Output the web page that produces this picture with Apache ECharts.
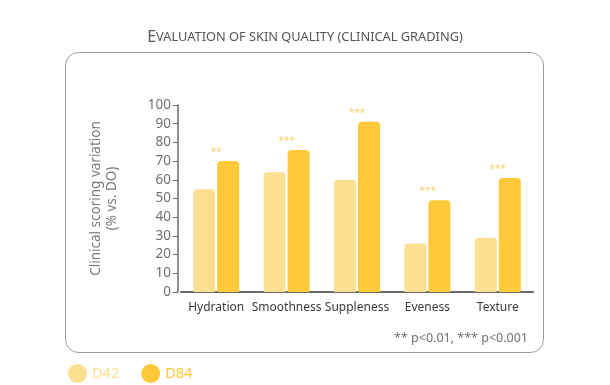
<!DOCTYPE html>
<html><head><meta charset="utf-8">
<script src="https://cdn.jsdelivr.net/npm/echarts@6/dist/echarts.min.js"></script>
<style>html,body{margin:0;padding:0;background:#fff}#c{width:610px;height:385px}</style>
</head><body><div id="c"></div>
<script>
const categories = ['Hydration', 'Smoothness', 'Suppleness', 'Eveness', 'Texture'];
const d42 = [55, 64, 60, 26, 29];
const d84 = [70, 76, 91, 49, 61];
const stars = ['**', '***', '***', '***', '***'];
const yTicks = [0, 10, 20, 30, 40, 50, 60, 70, 80, 90, 100];

const C42 = '#FDDF92', C84 = '#FFC93A';
const FONT = 'Noto Sans';
const chart = echarts.init(document.getElementById('c'));
chart.setOption({
  animation: false,
  title: {
    text: '{a|E}{b|VALUATION OF SKIN QUALITY (CLINICAL GRADING)}',
    left: 'center', top: 24,
    textStyle: {
      fontWeight: 'normal',
      rich: {
        a: {fontFamily: FONT, fontSize: 16, color: '#555', fontWeight: 'normal'},
        b: {fontFamily: FONT, fontSize: 12.8, color: '#555', fontWeight: 'normal'}
      }
    }
  },
  graphic: [
    {type: 'rect', shape: {x: 65.5, y: 52.5, width: 478, height: 300, r: 13}, style: {fill: 'none', stroke: '#9a9a9a', lineWidth: 1}},
    {type: 'text', right: 82, top: 332, style: {text: '** p<0.01, *** p<0.001', fill: '#707070', font: '12.5px ' + FONT}}
  ],
  legend: {
    left: 63, top: 359, itemWidth: 19, itemHeight: 19, itemGap: 22, icon: 'circle',
    textStyle: {fontFamily: FONT, fontSize: 14.5},
    data: [{name: 'D42', textStyle: {color: C42}}, {name: 'D84', textStyle: {color: C84}}]
  },
  grid: {left: 181, width: 352, top: 105, bottom: 93},
  xAxis: {
    type: 'category', data: categories,
    axisLine: {lineStyle: {color: '#6a6a6a', width: 2}},
    axisTick: {show: false},
    axisLabel: {interval: 0, color: '#3a3a3a', fontFamily: FONT, fontSize: 12, margin: 10}
  },
  yAxis: {
    type: 'value', min: 0, max: 100, interval: 10, offset: 3,
    name: 'Clinical scoring variation\n(% vs. DO)', nameLocation: 'middle', nameGap: 58,
    nameTextStyle: {color: '#7a7a7a', fontFamily: FONT, fontSize: 13.5, lineHeight: 16},
    axisLine: {show: true, lineStyle: {color: '#6a6a6a', width: 1.5}},
    axisTick: {show: true, length: 5, lineStyle: {color: '#6a6a6a'}},
    splitLine: {show: false},
    axisLabel: {color: '#707070', fontFamily: FONT, fontSize: 13.5, margin: 7,
      formatter: v => yTicks.includes(v) ? String(v) : ''}
  },
  series: [
    {name: 'D42', type: 'bar', data: d42, barWidth: 22, barGap: '9%',
      itemStyle: {color: C42, borderRadius: [4, 4, 1, 1]}},
    {name: 'D84', type: 'bar', data: d84, barWidth: 22,
      itemStyle: {color: C84, borderRadius: [4, 4, 1, 1]},
      label: {show: true, position: 'top', distance: 4, offset: [-12, 0],
        color: '#FDD270', fontSize: 10, fontFamily: FONT,
        formatter: p => stars[p.dataIndex]}}
  ]
});
</script></body></html>
